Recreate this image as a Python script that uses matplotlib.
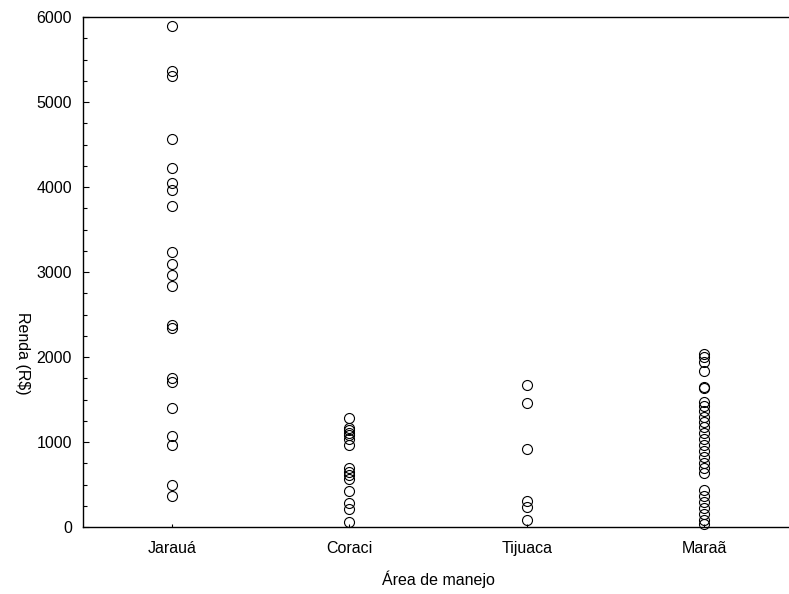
import numpy as np
import matplotlib
matplotlib.use("Agg")
import matplotlib.pyplot as plt
from matplotlib.ticker import MultipleLocator

plt.rcParams['font.family'] = ['Liberation Sans', 'DejaVu Sans']

# areas de manejo
areas = ["Jarauá", "Coraci", "Tijuaca", "Maraã"]

# renda (R$)
jaraua = [5900, 5360, 5310, 4560, 4220, 4050, 3960, 3780, 3230, 3100,
          2960, 2830, 2380, 2340, 1750, 1710, 1400, 1070, 960, 500, 370]
coraci = [1280, 1170, 1140, 1110, 1080, 1040, 960, 700, 650, 610,
          570, 420, 280, 210, 60]
tijuaca = [1670, 1460, 920, 310, 240, 80]
maraa = [2030, 2000, 1940, 1840, 1650, 1630, 1470, 1420, 1360, 1300,
         1240, 1180, 1110, 1040, 970, 900, 820, 750, 690, 630,
         440, 360, 290, 220, 150, 80, 30]

renda = [jaraua, coraci, tijuaca, maraa]

fig = plt.figure(figsize=(7.89, 5.94), dpi=100)
ax = fig.add_axes([83 / 789, 67 / 594, 710 / 789, 510 / 594])

for i, vals in enumerate(renda):
    ax.plot(np.full(len(vals), i), vals, 'o', markersize=7.2,
            markerfacecolor='none', markeredgecolor='black',
            markeredgewidth=0.8, clip_on=False)

ax.set_xlim(-0.5, 3.5)
ax.set_ylim(0, 6000)
ax.set_xticks(range(len(areas)))
ax.set_xticklabels(areas)
ax.yaxis.set_major_locator(MultipleLocator(1000))
ax.yaxis.set_minor_locator(MultipleLocator(250))

ax.tick_params(axis='y', which='major', direction='in', length=4, width=0.8,
               pad=8, labelsize=11.5)
ax.tick_params(axis='y', which='minor', direction='in', length=3, width=0.8)
ax.tick_params(axis='x', which='major', direction='in', length=2, width=0.8,
               pad=10, labelsize=11.5)

for s in ax.spines.values():
    s.set_linewidth(1.0)

fig.text(22 / 789, 1 - 353 / 594, "Renda (R$)", rotation=270,
         ha='center', va='center', fontsize=11.5)
fig.text(438 / 789, 1 - 579 / 594, "Área de manejo",
         ha='center', va='center', fontsize=11.5)

fig.savefig("out.png", dpi=100)
